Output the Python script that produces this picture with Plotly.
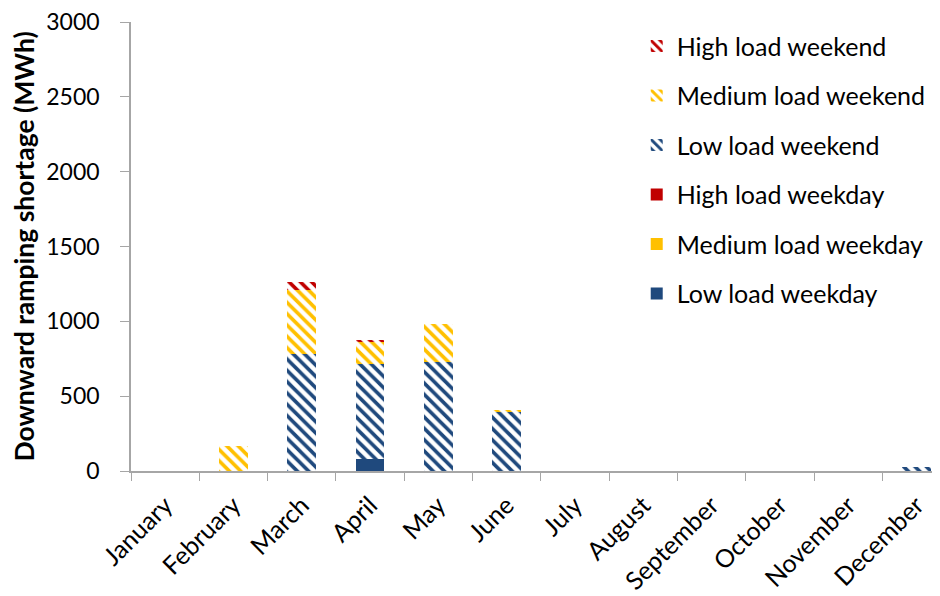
import plotly.graph_objects as go

months = ["January", "February", "March", "April", "May", "June", "July",
          "August", "September", "October", "November", "December"]

low_weekday = [0, 0, 0, 80, 0, 0, 0, 0, 0, 0, 0, 0]
medium_weekday = [0, 0, 0, 0, 0, 0, 0, 0, 0, 0, 0, 0]
high_weekday = [0, 0, 0, 0, 0, 0, 0, 0, 0, 0, 0, 0]
low_weekend = [0, 0, 780, 637, 730, 400, 0, 0, 0, 0, 0, 30]
medium_weekend = [0, 165, 430, 146, 250, 10, 0, 0, 0, 0, 0, 0]
high_weekend = [0, 0, 50, 15, 0, 0, 0, 0, 0, 0, 0, 0]

BLUE = "#1F497D"
YELLOW = "#FFC000"
RED = "#C00000"

series = [
    ("Low load weekday", low_weekday, BLUE, ""),
    ("Medium load weekday", medium_weekday, YELLOW, ""),
    ("High load weekday", high_weekday, RED, ""),
    ("Low load weekend", low_weekend, BLUE, "\\"),
    ("Medium load weekend", medium_weekend, YELLOW, "\\"),
    ("High load weekend", high_weekend, RED, "\\"),
]

L, T, PH = 123, 14, 449
PW = 940 - L

fig = go.Figure()
n = len(series)
for i, (name, vals, col, shape) in enumerate(series):
    if shape:
        marker = dict(color="white",
                      pattern=dict(shape=shape, fgcolor=col, bgcolor="white",
                                   fgopacity=1, size=8, solidity=0.45,
                                   fillmode="overlay"),
                      line=dict(width=0))
    else:
        marker = dict(color=col, line=dict(width=0))
    fig.add_trace(go.Bar(x=months, y=vals, name=name, marker=marker,
                         width=0.42, legendgroup=str(i),
                         legendrank=n - i))

fig.add_annotation(
    text="<b>Downward ramping shortage (MWh)</b>",
    xref="paper", yref="paper", x=(15 - L) / PW, y=0.5,
    xanchor="center", yanchor="middle", textangle=-90,
    showarrow=False, font=dict(size=26.5, color="black"))

fig.update_layout(
    width=940, height=596,
    barmode="stack",
    paper_bgcolor="white", plot_bgcolor="white",
    margin=dict(l=L, r=0, t=T, b=596 - T - PH),
    font=dict(family="Lato, Open Sans, sans-serif", color="black"),
    showlegend=True,
    legend=dict(x=0.619, y=0.997, xanchor="left", yanchor="top",
                traceorder="grouped", tracegroupgap=14,
                font=dict(size=25), bgcolor="rgba(0,0,0,0)",
                itemwidth=30),
    xaxis=dict(range=[-0.5, 11.46], showline=True, linecolor="#A6A6A6",
               linewidth=1.5, ticks="outside", tickson="boundaries",
               ticklen=8, tickcolor="#A6A6A6", tickangle=-45,
               tickfont=dict(size=25), ticklabelstandoff=8,
               ticklabeloverflow="allow",
               showgrid=False, automargin=False),
    yaxis=dict(range=[0, 3000], dtick=500, showline=True, linecolor="#A6A6A6",
               linewidth=1.5, ticks="outside", ticklen=9, tickcolor="#A6A6A6",
               tickfont=dict(size=23), ticklabelstandoff=16,
               ticklabeloverflow="allow",
               showgrid=False, zeroline=False, automargin=False),
)

fig.write_html("out.html")
